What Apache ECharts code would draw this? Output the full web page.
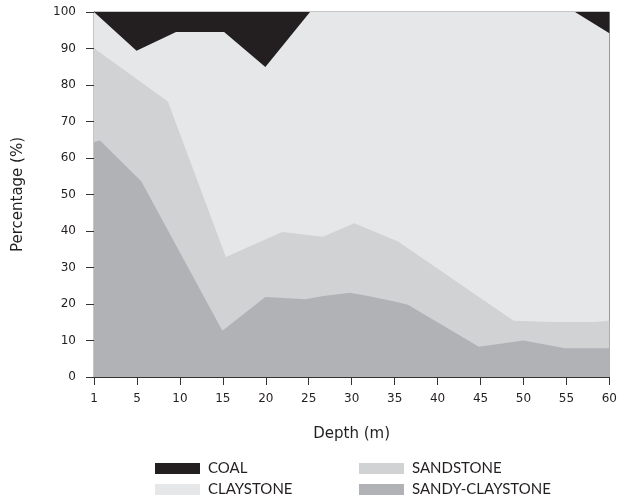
<!DOCTYPE html>
<html>
<head>
<meta charset="utf-8">
<script src="https://cdn.jsdelivr.net/npm/echarts@6/dist/echarts.min.js"></script>
<style>html,body{margin:0;padding:0;background:#fff}#c{width:620px;height:500px}</style>
</head>
<body>
<div id="c"></div>
<script>
// Depth tick labels (evenly spaced on the axis); x positions below are in tick-position units (0 = "1", 12 = "60")
var depthLabels = ['1','5','10','15','20','25','30','35','40','45','50','55','60'];
var yTicks = [0,10,20,30,40,50,60,70,80,90,100];

// Cumulative boundaries (%)
var coalTopX = [0, 12];
var coalTopY = [100, 100];

var claystoneTopX = [0, 0.99, 1.91, 3.03, 3.99, 5.03, 11.2, 12];
var claystoneTopY = [100, 89.4, 94.5, 94.5, 84.9, 100, 100, 94.2];

var sandstoneTopX = [0, 1.72, 3.07, 4.38, 5.33, 6.06, 7.07, 9.77, 10.70, 11.62, 12];
var sandstoneTopY = [90.1, 75.5, 32.9, 39.7, 38.4, 42.1, 37.2, 15.4, 15.1, 15.1, 15.4];

var sandyTopX = [0, 0.14, 1.10, 2.99, 3.99, 4.93, 5.34, 5.96, 6.38, 7.00, 7.31, 8.96, 10.0, 10.97, 12];
var sandyTopY = [64.4, 64.8, 53.6, 12.7, 21.9, 21.3, 22.2, 23.1, 22.2, 20.7, 19.8, 8.3, 10.0, 7.9, 7.9];

var names = ['COAL', 'CLAYSTONE', 'SANDSTONE', 'SANDY-CLAYSTONE'];
var colors = ['#231f20', '#e6e7e8', '#d1d2d4', '#b1b2b5'];

function pts(xs, ys) { return xs.map(function (x, i) { return [x, ys[i]]; }); }
var layers = [pts(coalTopX, coalTopY), pts(claystoneTopX, claystoneTopY), pts(sandstoneTopX, sandstoneTopY), pts(sandyTopX, sandyTopY)];

var axisFont = '"DejaVu Sans", sans-serif';
var legendFont = 'Lato, sans-serif';
// legend placement: [left, top] for each item (two columns, two rows)
var legendPos = [[155, 461], [155, 482], [359, 461], [359, 482]];

var chart = echarts.init(document.getElementById('c'));
chart.setOption({
  animation: false,
  grid: { left: 94, right: 7, top: 12, bottom: 123, show: true, borderColor: '#8a8a8a', borderWidth: 1, backgroundColor: 'transparent' },
  xAxis: {
    type: 'value', min: 0, max: depthLabels.length - 1, interval: 1,
    name: 'Depth (m)', nameLocation: 'middle', nameGap: 50,
    nameTextStyle: { fontFamily: axisFont, fontSize: 15, color: '#231f20' },
    axisLine: { show: true, lineStyle: { color: '#333', width: 1 } },
    axisTick: { show: true, length: 8, lineStyle: { color: '#333' } },
    axisLabel: { margin: 16, fontFamily: axisFont, fontSize: 12, color: '#231f20', formatter: function (v) { return depthLabels[v] || ''; } },
    splitLine: { show: false }
  },
  yAxis: {
    type: 'value', min: yTicks[0], max: yTicks[yTicks.length - 1], interval: 10,
    name: 'Percentage (%)', nameLocation: 'middle', nameGap: 68,
    nameTextStyle: { fontFamily: axisFont, fontSize: 15, color: '#231f20' },
    axisLine: { show: true, lineStyle: { color: '#333', width: 1 } },
    axisTick: { show: true, length: 8, lineStyle: { color: '#333' } },
    axisLabel: { margin: 18, fontFamily: axisFont, fontSize: 12, color: '#231f20' },
    splitLine: { show: false }
  },
  legend: [0, 1, 2, 3].map(function (i) {
    return { left: legendPos[i][0], top: legendPos[i][1], itemWidth: 45, itemHeight: 11, icon: 'rect', padding: 0,
      data: [names[i]], textStyle: { fontFamily: legendFont, fontSize: 15, color: '#231f20', padding: [0, 0, 0, 3] }, selectedMode: false };
  }),
  series: layers.map(function (d, i) {
    return {
      name: names[i], type: 'line', data: d, symbol: 'none', silent: true,
      color: colors[i], itemStyle: { color: colors[i] },
      lineStyle: { width: 0, color: colors[i] },
      areaStyle: { color: colors[i], opacity: 1 }
    };
  })
});
</script>
</body>
</html>
